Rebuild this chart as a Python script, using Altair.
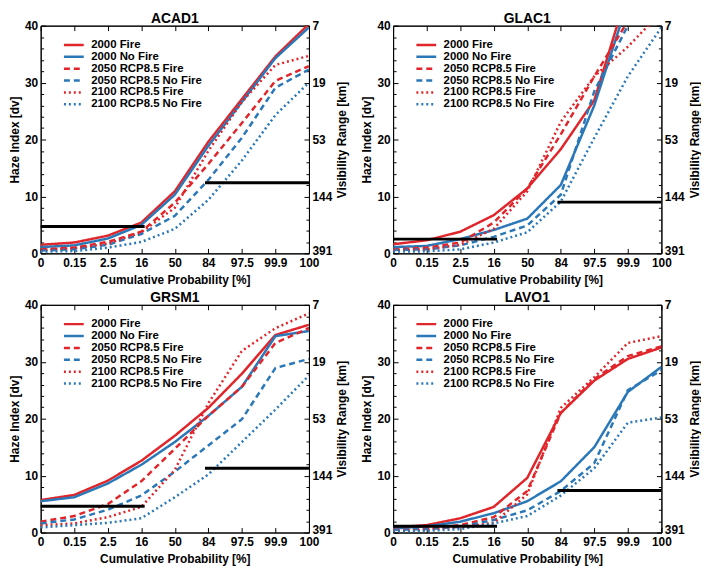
import altair as alt
import pandas as pd

x_labels = ["0", "0.15", "2.5", "16", "50", "84", "97.5", "99.9", "100"]
series_names = ["2000 Fire", "2000 No Fire", "2050 RCP8.5 Fire",
                "2050 RCP8.5 No Fire", "2100 RCP8.5 Fire", "2100 RCP8.5 No Fire"]
series_colors = ["#e0262b", "#2a78b8", "#e0262b", "#2a78b8", "#e0262b", "#2a78b8"]
series_dashes = [[1, 0], [1, 0], [6, 4], [6, 4], [2, 3], [2, 3]]

sites = ["ACAD1", "GLAC1", "GRSM1", "LAVO1"]

acad1 = [
    [1.5, 1.9, 3.1, 5.4, 10.9, 19.6, 27.1, 34.6, 40.3],
    [1.1, 1.4, 2.6, 5.0, 10.3, 18.9, 26.6, 34.3, 39.7],
    [0.7, 1.0, 2.0, 3.8, 8.9, 15.7, 22.9, 30.3, 32.9],
    [0.5, 0.7, 1.5, 3.4, 6.6, 12.9, 20.3, 29.1, 32.3],
    [0.6, 0.9, 1.7, 3.7, 8.0, 18.0, 26.6, 33.1, 34.7],
    [0.3, 0.4, 1.0, 2.0, 4.3, 9.4, 16.3, 24.3, 30.0],
]
glac1 = [
    [1.6, 2.3, 3.8, 6.7, 11.4, 18.3, 26.9, 46.2, 55.0],
    [1.1, 1.3, 2.5, 4.1, 6.1, 12.0, 26.0, 44.2, 55.0],
    [0.7, 1.0, 1.9, 5.4, 11.4, 20.9, 31.1, 40.8, 48.0],
    [0.6, 0.7, 1.4, 2.9, 4.9, 10.3, 28.5, 40.0, 48.0],
    [0.6, 0.7, 1.5, 4.3, 10.9, 23.1, 31.1, 36.3, 42.4],
    [0.3, 0.35, 0.7, 1.9, 3.7, 9.1, 20.3, 31.1, 39.7],
]
grsm1 = [
    [5.7, 6.6, 9.1, 12.6, 17.0, 21.9, 27.9, 34.7, 36.5],
    [5.5, 6.2, 8.6, 11.9, 15.9, 20.5, 25.6, 34.5, 35.4],
    [1.9, 2.9, 5.0, 9.0, 14.7, 20.5, 25.6, 33.3, 35.9],
    [1.6, 2.3, 4.0, 6.5, 10.7, 15.3, 19.9, 28.9, 30.5],
    [1.3, 1.6, 2.7, 4.5, 11.0, 22.7, 31.9, 35.9, 38.5],
    [0.9, 1.3, 1.7, 2.5, 6.2, 10.2, 15.9, 21.6, 27.6],
]
lavo1 = [
    [0.9, 1.3, 2.5, 4.5, 9.6, 21.0, 26.7, 30.5, 32.5],
    [0.7, 1.1, 1.9, 3.4, 5.5, 9.0, 15.0, 24.7, 29.1],
    [0.6, 0.7, 1.3, 2.7, 7.3, 21.0, 27.0, 31.0, 32.7],
    [0.5, 0.6, 1.0, 2.2, 3.9, 7.3, 12.2, 25.0, 28.5],
    [0.3, 0.5, 0.9, 1.7, 6.7, 21.9, 27.3, 33.3, 34.5],
    [0.2, 0.3, 0.6, 1.6, 2.9, 6.5, 11.3, 19.3, 20.2],
]
site_values = [acad1, glac1, grsm1, lavo1]

# natural-condition reference levels (dv) and their percentile-index extents
natural_low = [4.7, 2.5, 4.6, 1.1]
natural_high = [12.4, 9.0, 11.3, 7.4]
natural_low_span = [0, 3.1]
natural_high_span = [4.9, 8]

haze_ticks = [0, 10, 20, 30, 40]
haze_minor_ticks = list(range(0, 41, 2))
vis_labels = ["391", "144", "53", "19", "7"]

FONT = "Liberation Sans"
PW, PH = 271, 230
x_label_expr = "[" + ",".join("'%s'" % s for s in x_labels) + "][round(datum.value)]"
haze_label_expr = "datum.value % 10 === 0 ? datum.value : ''"
vis_label_expr = ("datum.value % 10 === 0 ? {" +
                  ",".join("'%d':'%s'" % (v, l) for v, l in zip(haze_ticks, vis_labels)) +
                  "}[datum.value] : ''")

x_scale = alt.Scale(domain=[0, 8], nice=False, zero=False)
y_scale = alt.Scale(domain=[0, 40], nice=False)
inward = {"expr": "-5"}
inward_minor = {"expr": "datum.value % 10 === 0 ? -5 : -3"}

legend_cfg = dict(title=None, orient="none", legendX=22, legendY=15,
                  symbolType="stroke", symbolSize=400, symbolStrokeWidth=2.5,
                  clipHeight=9, rowPadding=0, labelFontSize=11.5,
                  labelFont=FONT, labelFontWeight="bold", labelOffset=6,
                  padding=0)


def panel(site, vals, lo, hi):
    rows = []
    for name, series in zip(series_names, vals):
        for i, v in enumerate(series):
            rows.append({"series": name, "idx": i, "dv": v})
    df = pd.DataFrame(rows)
    lines = alt.Chart(df).mark_line(strokeWidth=2.5, clip=True).encode(
        x=alt.X("idx:Q", scale=x_scale,
                axis=alt.Axis(values=list(range(9)), labelExpr=x_label_expr,
                              title="Cumulative Probability [%]", tickSize=inward,
                              labelPadding=9, titlePadding=6, labelFlush=False)),
        y=alt.Y("dv:Q", scale=y_scale,
                axis=alt.Axis(values=haze_minor_ticks, labelExpr=haze_label_expr,
                              title="Haze Index [dv]",
                              tickSize=inward_minor, labelPadding=8, titlePadding=3)),
        color=alt.Color("series:N", scale=alt.Scale(domain=series_names, range=series_colors),
                        legend=alt.Legend(**legend_cfg)),
        strokeDash=alt.StrokeDash("series:N", scale=alt.Scale(domain=series_names, range=series_dashes),
                                  legend=alt.Legend(**legend_cfg)),
        order="idx:Q",
    )
    nat = pd.DataFrame({"x0": [natural_low_span[0], natural_high_span[0]],
                        "x1": [natural_low_span[1], natural_high_span[1]],
                        "dv": [lo, hi]})
    rules = alt.Chart(nat).mark_rule(color="black", strokeWidth=3).encode(
        x=alt.X("x0:Q", scale=x_scale,
                axis=alt.Axis(orient="top", values=list(range(9)), labels=False,
                              title=None, tickSize=inward, labelPadding=0)),
        x2="x1:Q",
        y=alt.Y("dv:Q", scale=y_scale,
                axis=alt.Axis(orient="right", values=haze_minor_ticks, labelExpr=vis_label_expr,
                              labelOffset={"condition": {"test": "datum.value === 0", "value": -3}, "value": 0},
                              title="Visibility Range [km]", titleAngle=270,
                              titleX=33, titleY=PH / 2, titleAlign="center", titleBaseline="middle",
                              tickSize=inward_minor, labelPadding=8)),
    )
    return alt.layer(lines, rules).resolve_scale(x="independent", y="independent").properties(
        width=PW, height=PH, title=site)


panels = [panel(s, v, lo, hi) for s, v, lo, hi in zip(sites, site_values, natural_low, natural_high)]

chart = alt.concat(*panels, columns=2, spacing={"row": 4, "column": 12}).resolve_scale(
    color="independent", strokeDash="independent"
).properties(padding=0).configure_view(
    stroke="black", strokeWidth=1
).configure_axis(
    grid=False, labelFont=FONT, labelFontWeight="bold", labelFontSize=12, labelColor="black",
    titleFont=FONT, titleFontWeight="bold", titleFontSize=12, titleColor="black",
    domainColor="black", tickColor="black", labelOverlap=False
).configure_title(
    font=FONT, fontSize=14, fontWeight="bold", color="black", offset=-6
)

chart.save("out.html", embed_options={"renderer": "svg", "actions": False})
